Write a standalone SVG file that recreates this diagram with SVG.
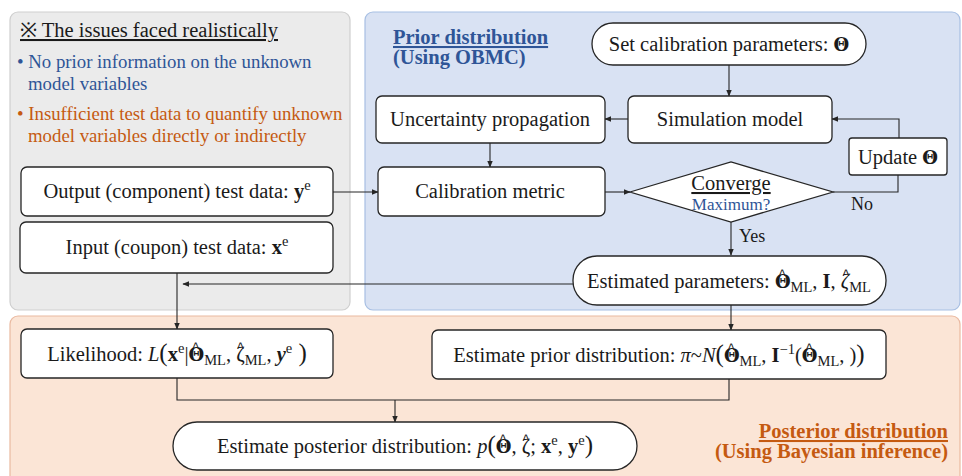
<svg xmlns="http://www.w3.org/2000/svg" width="962" height="476" viewBox="0 0 962 476">
  <defs>
    <marker id="arr" viewBox="0 0 10 10" refX="9" refY="5" markerWidth="7" markerHeight="7" markerUnits="userSpaceOnUse" orient="auto">
      <path d="M0,1 L10,5 L0,9 z" fill="#262626"/>
    </marker>
    <style>
      .t { font-family: "Liberation Serif", "Times New Roman", serif; font-size: 20.5px; fill: #1a1a1a; }
      .n { fill: #ffffff; stroke: #262626; stroke-width: 1.3; }
      .c { fill: none; stroke: #262626; stroke-width: 1.1; }
      .b { font-weight: bold; }
      .i { font-style: italic; }
      .m { font-family: "DejaVu Serif", serif; font-size: 18px; }
      .h { font-family: "Liberation Mono", monospace; font-size: 14px; }
      .s { font-size: 14.5px; }
      .p { font-size: 25px; }
      .blue { fill: #2f5597; }
      .orange { fill: #c55a11; }
      .u { text-decoration: underline; }
    </style>
  </defs>

  <!-- background panels -->
  <g id="panels">
    <rect x="10" y="12" width="340" height="298" rx="8" fill="#ebebeb" stroke="#cfcfcf" stroke-width="1.2"/>
    <rect x="365" y="12" width="595" height="298" rx="8" fill="#d9e2f3" stroke="#a7bfe3" stroke-width="1.2"/>
    <rect x="10" y="316" width="950" height="170" rx="8" fill="#fbe5d6" stroke="#eab9a0" stroke-width="1.2"/>
  </g>

  <!-- panel notes and titles -->
  <g id="issues">
    <text class="t u" x="20" y="37">※ The issues faced realistically</text>
    <text class="t blue" x="17" y="68" style="font-size:18.8px">• No prior information on the unknown</text>
    <text class="t blue" x="28" y="90" style="font-size:18.8px">model variables</text>
    <text class="t orange" x="17" y="120" style="font-size:18.8px">• Insufficient test data to quantify unknown</text>
    <text class="t orange" x="28" y="142" style="font-size:18.8px">model variables directly or indirectly</text>
  </g>
  <g id="prior-title">
    <text class="t b u blue" x="393" y="44">Prior distribution</text>
    <text class="t b blue" x="393" y="64">(Using OBMC)</text>
  </g>
  <g id="posterior-title">
    <text class="t b u orange" x="948" y="438" text-anchor="end">Posterior distribution</text>
    <text class="t b orange" x="948" y="458" text-anchor="end">(Using Bayesian inference)</text>
  </g>

  <!-- connectors -->
  <g id="connectors">
    <path class="c" d="M729,65 V96" marker-end="url(#arr)"/>
    <path class="c" d="M628,119 H605" marker-end="url(#arr)"/>
    <path class="c" d="M899,138 V119 H832" marker-end="url(#arr)"/>
    <path class="c" d="M490,143 V167" marker-end="url(#arr)"/>
    <path class="c" d="M605,192 H630" marker-end="url(#arr)"/>
    <path class="c" d="M833,192 H898 V175"/>
    <path class="c" d="M731,222 V255" marker-end="url(#arr)"/>
    <path class="c" d="M333,192 H378" marker-end="url(#arr)"/>
    <path class="c" d="M573,284 H183" marker-end="url(#arr)"/>
    <path class="c" d="M177,273 V329" marker-end="url(#arr)"/>
    <path class="c" d="M731,305 V330" marker-end="url(#arr)"/>
    <path class="c" d="M177,378 V400 H729 V379"/>
    <path class="c" d="M395,400 V422" marker-end="url(#arr)"/>
    <text class="t" x="851" y="210" style="font-size:18px">No</text>
    <text class="t" x="739" y="242" style="font-size:18px">Yes</text>
  </g>

  <!-- nodes -->
  <g id="set-params">
    <rect class="n" x="592" y="23" width="274" height="42" rx="21"/>
    <text class="t" x="729" y="51" text-anchor="middle">Set calibration parameters: <tspan class="m b">Θ</tspan></text>
  </g>
  <g id="simulation">
    <rect class="n" x="628" y="96" width="204" height="47" rx="6"/>
    <text class="t" x="730" y="126" text-anchor="middle">Simulation model</text>
  </g>
  <g id="uncertainty">
    <rect class="n" x="376" y="96" width="229" height="47" rx="6"/>
    <text class="t" x="490" y="126" text-anchor="middle">Uncertainty propagation</text>
  </g>
  <g id="update">
    <rect class="n" x="849" y="138" width="98" height="37" rx="3"/>
    <text class="t" x="898" y="164" text-anchor="middle">Update <tspan class="m b">Θ</tspan></text>
  </g>
  <g id="calibration-metric">
    <rect class="n" x="378" y="167" width="227" height="49" rx="6"/>
    <text class="t" x="490" y="198" text-anchor="middle">Calibration metric</text>
  </g>
  <g id="converge">
    <polygon class="n" points="630,192 731,162 833,192 731,222"/>
    <text class="t u" x="731" y="190" text-anchor="middle">Converge</text>
    <text class="t blue" x="731" y="210" text-anchor="middle" style="font-size:17px">Maximum?</text>
  </g>
  <g id="output-data">
    <rect class="n" x="21" y="167" width="312" height="49" rx="6"/>
    <text class="t" x="177" y="198" text-anchor="middle">Output (component) test data: <tspan class="b">y</tspan><tspan dy="-8" class="s">e</tspan></text>
  </g>
  <g id="input-data">
    <rect class="n" x="20" y="222" width="313" height="51" rx="6"/>
    <text class="t" x="177" y="254" text-anchor="middle">Input (coupon) test data: <tspan class="b">x</tspan><tspan dy="-8" class="s">e</tspan></text>
  </g>
  <!-- hats: a caret is stepped back over the symbol, then the pen is restored -->
  <g id="estimated-params">
    <rect class="n" x="573" y="256" width="313" height="49" rx="24"/>
    <text class="t" x="729" y="288" text-anchor="middle">Estimated parameters: <tspan class="m b">Θ</tspan><tspan class="h" dx="-12.6" dy="-9">^</tspan><tspan class="s" dx="4.2" dy="13">ML</tspan><tspan dy="-4">, </tspan><tspan class="b">I</tspan>, <tspan class="i">ζ</tspan><tspan class="h" dx="-7.5" dy="-9">^</tspan><tspan class="s" dx="-0.9" dy="13">ML</tspan></text>
  </g>
  <g id="likelihood">
    <rect class="n" x="21" y="329" width="312" height="49" rx="6"/>
    <text class="t" x="177" y="361" text-anchor="middle">Likelihood: <tspan class="i">L</tspan><tspan class="p">(</tspan><tspan class="b">x</tspan><tspan dy="-8" class="s">e</tspan><tspan dy="8">|</tspan><tspan class="m b">Θ</tspan><tspan class="h" dx="-12.6" dy="-9">^</tspan><tspan class="s" dx="4.2" dy="13">ML</tspan><tspan dy="-4">, </tspan><tspan>ζ</tspan><tspan class="h" dx="-8.5" dy="-9">^</tspan><tspan class="s" dx="0.1" dy="13">ML</tspan><tspan dy="-4">, </tspan><tspan class="b i">y</tspan><tspan dy="-8" class="s">e</tspan><tspan dy="8" class="p"> )</tspan></text>
  </g>
  <g id="prior-estimate">
    <rect class="n" x="432" y="330" width="454" height="49" rx="6"/>
    <text class="t" x="659" y="362" text-anchor="middle">Estimate prior distribution: <tspan class="i">π</tspan>~<tspan class="i">N</tspan><tspan class="p">(</tspan><tspan class="m b">Θ</tspan><tspan class="h" dx="-12.6" dy="-9">^</tspan><tspan class="s" dx="4.2" dy="13">ML</tspan><tspan dy="-4">, </tspan><tspan class="b">I</tspan><tspan dy="-8" class="s">−1</tspan><tspan dy="8">(</tspan><tspan class="m b">Θ</tspan><tspan class="h" dx="-12.6" dy="-9">^</tspan><tspan class="s" dx="4.2" dy="13">ML</tspan><tspan dy="-4">, )</tspan><tspan class="p">)</tspan></text>
  </g>
  <g id="posterior-estimate">
    <rect class="n" x="173" y="422" width="464" height="48" rx="24"/>
    <text class="t" x="405" y="453" text-anchor="middle">Estimate posterior distribution: <tspan class="i">p</tspan><tspan class="p">(</tspan><tspan class="m b">Θ</tspan><tspan class="h" dx="-12.6" dy="-9">^</tspan><tspan dx="4.2" dy="9">, </tspan><tspan>ζ</tspan><tspan class="h" dx="-8.5" dy="-9">^</tspan><tspan dx="0.1" dy="9">; </tspan><tspan class="b">x</tspan><tspan dy="-8" class="s">e</tspan><tspan dy="8">, </tspan><tspan class="b">y</tspan><tspan dy="-8" class="s">e</tspan><tspan dy="8" class="p">)</tspan></text>
  </g>
</svg>
